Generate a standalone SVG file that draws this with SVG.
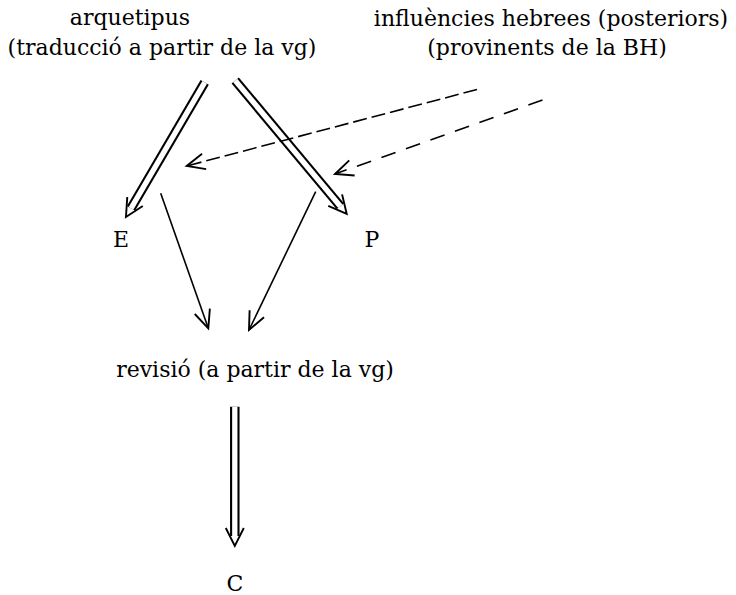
<svg xmlns="http://www.w3.org/2000/svg" width="736" height="595" viewBox="0 0 736 595">
<style>
text{font-family:"DejaVu Serif","Liberation Serif",serif;font-size:22px;fill:#000;text-anchor:middle}
.thin{fill:none;stroke:#000;stroke-width:1.6}
.dash1{fill:none;stroke:#000;stroke-width:1.6;stroke-dasharray:14 5}
.dash2{fill:none;stroke:#000;stroke-width:1.6;stroke-dasharray:15 11}
.dblo{fill:none;stroke:#000;stroke-width:9.5}
.dbli{fill:none;stroke:#fff;stroke-width:5.3}
.head{fill:none;stroke:#000;stroke-width:1.9;stroke-linejoin:miter}
</style>
<defs>
<marker id="ah" markerUnits="userSpaceOnUse" viewBox="-20 -10 22 20" refX="0" refY="0" markerWidth="22" markerHeight="20" orient="auto" overflow="visible">
<path class="head" d="M-18,-8 L0,0 L-18,8"/>
</marker>
<marker id="dh" markerUnits="userSpaceOnUse" viewBox="-10 -10 22 20" refX="0" refY="0" markerWidth="22" markerHeight="20" orient="auto" overflow="visible">
<path class="head" d="M-8,-9 L10,0 L-8,9"/>
</marker>
</defs>
<g id="connectors">
<path class="dblo" d="M204.7,82.3 L131,208.4" marker-end="url(#dh)"/>
<path class="dbli" d="M204.7,82.3 L131,208.4"/>
<path class="dblo" d="M235.2,80.5 L340.3,206.3" marker-end="url(#dh)"/>
<path class="dbli" d="M235.2,80.5 L340.3,206.3"/>
<path class="dblo" d="M234.8,406.7 L234.8,536" marker-end="url(#dh)"/>
<path class="dbli" d="M234.8,406.7 L234.8,536"/>
<path class="dash1" d="M477,89.5 L186.7,166" marker-end="url(#ah)"/>
<path class="dash2" d="M542.5,100 L335,174" marker-end="url(#ah)"/>
<path class="thin" d="M160.7,193.3 L208.3,328.3" marker-end="url(#ah)"/>
<path class="thin" d="M315.7,191.7 L249,330" marker-end="url(#ah)"/>
</g>
<g id="arquetipus">
<text x="130" y="25">arquetipus</text>
<text x="162" y="55">(traducció a partir de la vg)</text>
</g>
<g id="influencies">
<text x="551" y="26">influències hebrees (posteriors)</text>
<text x="547" y="55">(provinents de la BH)</text>
</g>
<g id="E"><text x="121" y="247">E</text></g>
<g id="P"><text x="372" y="247">P</text></g>
<g id="revisio"><text x="255" y="377">revisió (a partir de la vg)</text></g>
<g id="C"><text x="235" y="591">C</text></g>
</svg>
